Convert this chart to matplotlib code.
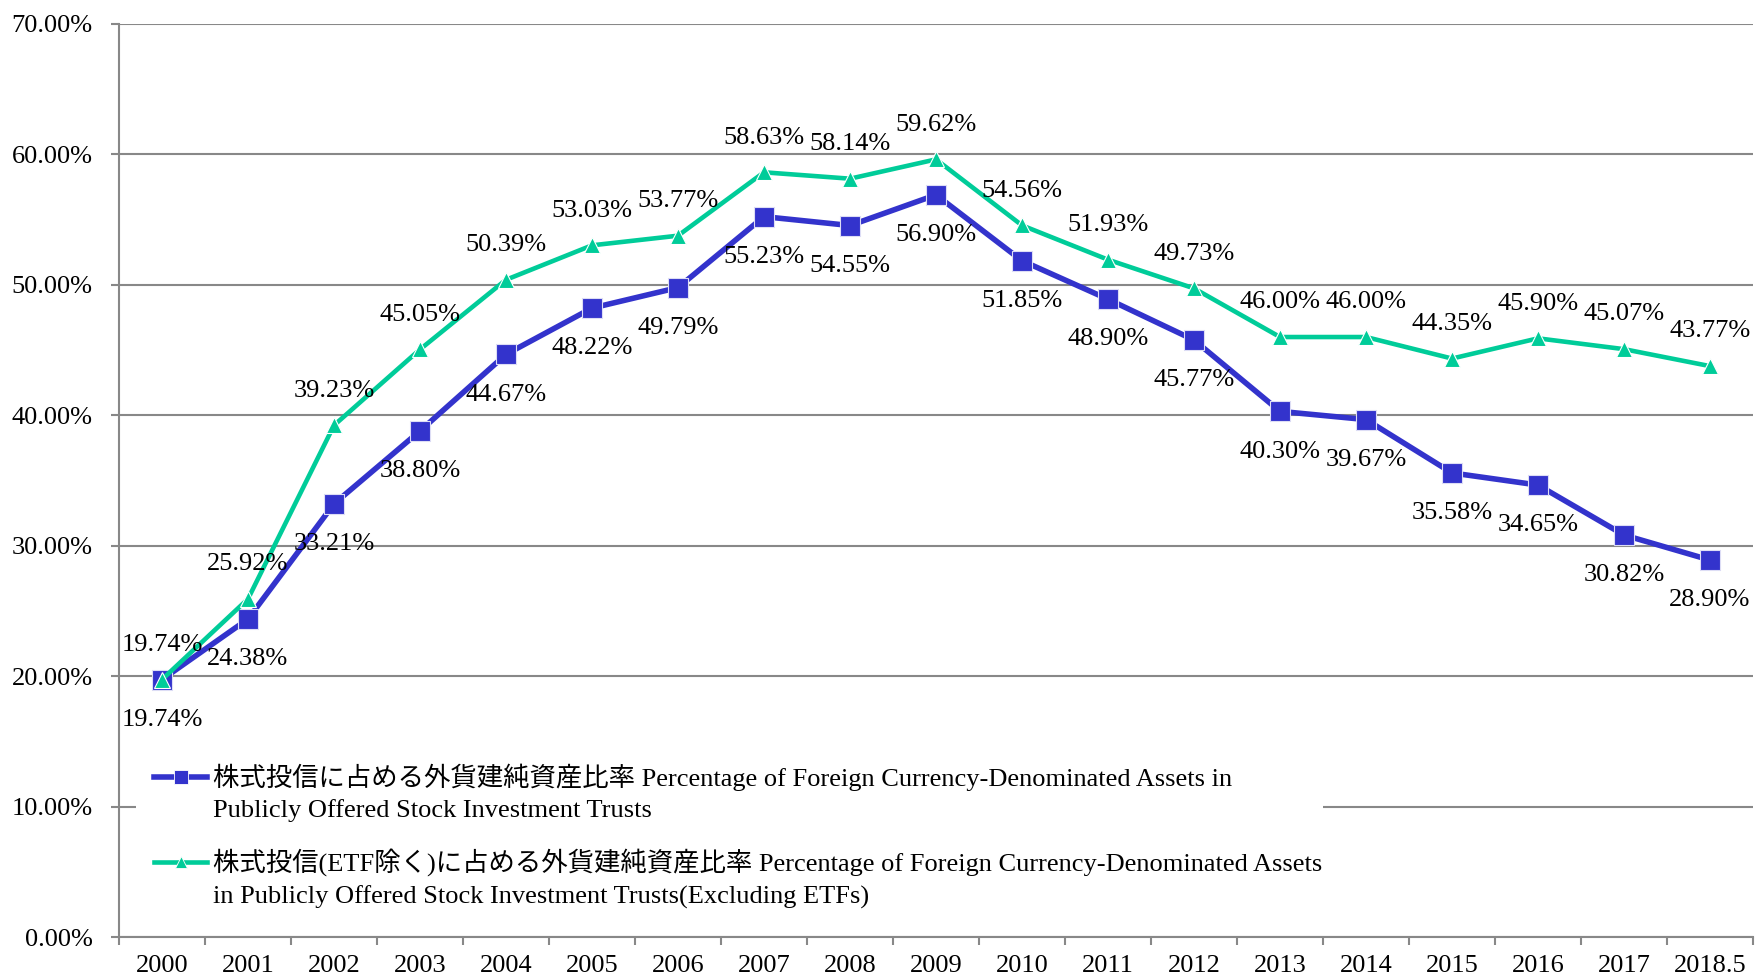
import matplotlib
matplotlib.use('Agg')
import matplotlib.pyplot as plt
from matplotlib.lines import Line2D
from matplotlib.patches import Rectangle
from matplotlib.ticker import FixedLocator, FuncFormatter

plt.rcParams['font.family'] = ['Liberation Serif', 'Noto Sans CJK JP']

# Data
years = ['2000', '2001', '2002', '2003', '2004', '2005', '2006', '2007', '2008', '2009',
         '2010', '2011', '2012', '2013', '2014', '2015', '2016', '2017', '2018.5']
stock_trusts = [19.74, 24.38, 33.21, 38.80, 44.67, 48.22, 49.79, 55.23, 54.55, 56.90,
                51.85, 48.90, 45.77, 40.30, 39.67, 35.58, 34.65, 30.82, 28.90]
stock_trusts_ex_etf = [19.74, 25.92, 39.23, 45.05, 50.39, 53.03, 53.77, 58.63, 58.14, 59.62,
                       54.56, 51.93, 49.73, 46.00, 46.00, 44.35, 45.90, 45.07, 43.77]

label_blue = ['株式投信に占める外貨建純資産比率 Percentage of Foreign Currency-Denominated Assets in',
              'Publicly Offered Stock Investment Trusts']
label_green = ['株式投信(ETF除く)に占める外貨建純資産比率 Percentage of Foreign Currency-Denominated Assets',
               'in Publicly Offered Stock Investment Trusts(Excluding ETFs)']

blue = '#3333CC'
green = '#00CC99'
grey = '#888888'
fs = 19

fig = plt.figure(figsize=(17.55, 9.76), dpi=100)
ax = fig.add_axes([119 / 1755, 39 / 976, 1634 / 1755, 913 / 976])

x = list(range(len(years)))

ax.plot(x, stock_trusts, color=blue, lw=4, marker='s', markersize=14,
        markeredgecolor='#DDDDF5', markeredgewidth=0.8, zorder=3)
ax.plot(x, stock_trusts_ex_etf, color=green, lw=3.3, marker='^', markersize=12,
        markeredgecolor='white', markeredgewidth=0.8, zorder=4)

# Data labels
for xi, v in zip(x, stock_trusts):
    ax.annotate(f'{v:.2f}%', (xi, v), xytext=(0, -29), textcoords='offset points',
                ha='center', va='center', fontsize=fs, color='black', zorder=6)
for xi, v in zip(x, stock_trusts_ex_etf):
    ax.annotate(f'{v:.2f}%', (xi, v), xytext=(0, 25), textcoords='offset points',
                ha='center', va='center', fontsize=fs, color='black', zorder=6)

ax.set_xlim(-0.5, len(years) - 0.5)
ax.set_ylim(0, 70)

# Y axis
ax.set_yticks(range(0, 71, 10))
ax.yaxis.set_major_formatter(FuncFormatter(lambda v, p: f'{v:.2f}%'))
ax.yaxis.grid(True, color=grey, lw=1.5)
ax.tick_params(axis='y', length=6, width=1.5, color=grey, pad=13, labelsize=fs)

# X axis: ticks at category boundaries, labels centered
ax.xaxis.set_major_locator(FixedLocator([i - 0.5 for i in range(len(years) + 1)]))
ax.xaxis.set_major_formatter(FuncFormatter(lambda v, p: ''))
ax.xaxis.set_minor_locator(FixedLocator(x))
ax.set_xticklabels(years, minor=True)
ax.tick_params(axis='x', which='major', length=6, width=1.5, color=grey)
ax.tick_params(axis='x', which='minor', length=0, pad=13, labelsize=fs)

for side in ['top', 'right']:
    ax.spines[side].set_visible(False)
for side in ['left', 'bottom']:
    ax.spines[side].set_color(grey)
    ax.spines[side].set_linewidth(1.5)
ax.set_axisbelow(True)

# Legend (drawn by hand so the handle sits on the first line)
ax.add_patch(Rectangle((0.0104, 0.027), 0.7266, 0.172, transform=ax.transAxes,
                       facecolor='white', edgecolor='none', zorder=5))
rows = [(label_blue, blue, 's', 10, 4, 0.175, 0.138),
        (label_green, green, '^', 9, 3.3, 0.082, 0.044)]
for lines, col, mk, ms, lw, y1, y2 in rows:
    ax.add_line(Line2D([0.0217, 0.0539], [y1, y1], transform=ax.transAxes, color=col,
                       lw=lw, zorder=6))
    ax.add_line(Line2D([0.0378], [y1], transform=ax.transAxes, color=col, marker=mk,
                       markersize=ms, markeredgecolor='white', markeredgewidth=0.6, zorder=7))
    ax.text(0.0573, y1, lines[0], transform=ax.transAxes, ha='left', va='center',
            fontsize=fs, zorder=7)
    ax.text(0.0573, y2, lines[1], transform=ax.transAxes, ha='left', va='center',
            fontsize=fs, zorder=7)

fig.savefig('out.png', dpi=100)
